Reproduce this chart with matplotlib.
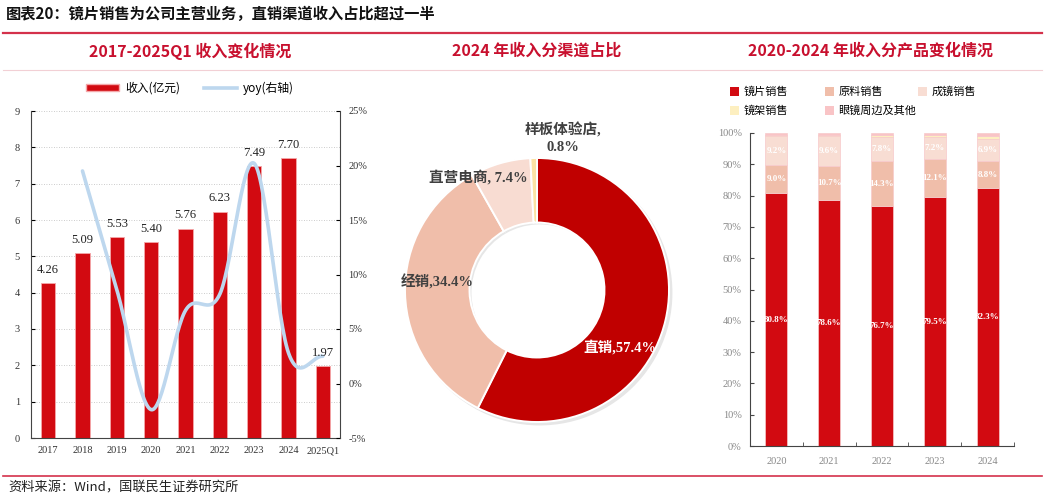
import numpy as np
import matplotlib
matplotlib.use("Agg")
import matplotlib.pyplot as plt
from matplotlib.lines import Line2D
from matplotlib.patches import Patch

# ---------------- data ----------------
rev_years = ["2017", "2018", "2019", "2020", "2021", "2022", "2023", "2024", "2025Q1"]
revenue = [4.26, 5.09, 5.53, 5.40, 5.76, 6.23, 7.49, 7.70, 1.97]
yoy = [None, 19.5, 8.6, -2.4, 6.7, 8.2, 20.2, 2.8, 2.5]
rev_yticks = [0, 1, 2, 3, 4, 5, 6, 7, 8, 9]
yoy_yticks = [-5, 0, 5, 10, 15, 20, 25]

channel_names = ["直销", "经销", "直营电商", "样板体验店"]
channel_share = [57.4, 34.4, 7.4, 0.8]

prod_years = ["2020", "2021", "2022", "2023", "2024"]
prod_names = ["镜片销售", "原料销售", "成镜销售", "镜架销售", "眼镜周边及其他"]
lens = [80.8, 78.6, 76.7, 79.5, 82.3]
raw = [9.0, 10.7, 14.3, 12.1, 8.8]
finished = [9.2, 9.6, 7.8, 7.2, 6.9]
frames = [0.5, 0.5, 0.6, 0.7, 1.0]
others = [0.5, 0.6, 0.6, 0.5, 1.0]
pct_ticks = [0, 10, 20, 30, 40, 50, 60, 70, 80, 90, 100]

# ---------------- style ----------------
CJK = ["Noto Sans CJK SC", "DejaVu Sans"]
SERIF = ["Liberation Serif", "Noto Sans CJK SC"]
RED = "#D20A11"
TITLE_RED = "#C8102E"

W, H = 1045, 500
fig = plt.figure(figsize=(W / 100, H / 100), dpi=100)


def fx(px):
    return px / W


def fy(py):
    return 1 - py / H


# header
fig.text(fx(6), fy(14), "图表20：镜片销售为公司主营业务，直销渠道收入占比超过一半",
         family=CJK, fontsize=11, fontweight="bold", va="center", ha="left", color="#111111")
fig.add_artist(Line2D([fx(3), fx(1042)], [fy(33), fy(33)], color="#D4314B", lw=1.6))
fig.add_artist(Line2D([fx(3), fx(1042)], [fy(70), fy(70)], color="#F2D0D5", lw=0.8))
fig.text(fx(190), fy(51), "2017-2025Q1 收入变化情况", family=CJK, fontsize=11.5,
         fontweight="bold", color=TITLE_RED, ha="center", va="center")
fig.text(fx(537), fy(51), "2024 年收入分渠道占比", family=CJK, fontsize=11.5,
         fontweight="bold", color=TITLE_RED, ha="center", va="center")
fig.text(fx(870), fy(51), "2020-2024 年收入分产品变化情况", family=CJK, fontsize=11.5,
         fontweight="bold", color=TITLE_RED, ha="center", va="center")

# footer
fig.add_artist(Line2D([fx(3), fx(1042)], [fy(476), fy(476)], color="#D4314B", lw=1.2))
fig.text(fx(8), fy(488), "资料来源：Wind，国联民生证券研究所", family=CJK, fontsize=9.5,
         ha="left", va="center", color="#222222")

# ---------------- chart 1 ----------------
ax1 = fig.add_axes([fx(31), fy(438), fx(340) - fx(31), fy(111) - fy(438)])
x = np.arange(len(rev_years))
ax1.bar(x, revenue, width=0.42, color=RED, edgecolor="#F4A7A9", linewidth=0.6, zorder=2)
ax1.set_xlim(-0.5, len(rev_years) - 0.5)
ax1.set_ylim(0, 9)
ax1.set_yticks(rev_yticks)
ax1.set_yticklabels([str(t) for t in rev_yticks], family=SERIF, fontsize=7.5, color="#333333")
ax1.set_xticks(x)
ax1.set_xticklabels(rev_years, family=SERIF, fontsize=7.5, color="#333333")
ax1.tick_params(axis="x", length=0, pad=6)
ax1.tick_params(axis="y", length=3, direction="in", pad=8)
ax1.grid(axis="y", linestyle=(0, (1, 2)), color="#BBBBBB", lw=0.6, zorder=0)
ax1.spines["top"].set_visible(False)
ax1.spines["right"].set_visible(False)
ax1.spines["left"].set_color("#444444")
ax1.spines["bottom"].set_color("#444444")

ax1b = ax1.twinx()
ax1b.set_ylim(-5, 25)
ax1b.set_yticks(yoy_yticks)
ax1b.set_yticklabels([f"{t}%" for t in yoy_yticks], family=SERIF, fontsize=7.5, color="#333333")
ax1b.tick_params(axis="y", length=3, direction="in", pad=6)
ax1b.spines["top"].set_visible(False)
ax1b.spines["left"].set_visible(False)
ax1b.spines["bottom"].set_visible(False)
ax1b.spines["right"].set_color("#444444")

# smooth (Catmull-Rom) rendering of yoy points
px_ = np.array([i for i, v in enumerate(yoy) if v is not None], dtype=float)
py_ = np.array([v for v in yoy if v is not None], dtype=float)
P = np.column_stack([px_, py_])
Pp = np.vstack([P[0] - (P[1] - P[0]), P, P[-1] + (P[-1] - P[-2])])
curve = []
for i in range(1, len(Pp) - 2):
    p0, p1, p2, p3 = Pp[i - 1], Pp[i], Pp[i + 1], Pp[i + 2]
    t = np.linspace(0, 1, 30)[:, None]
    c = 0.5 * ((2 * p1) + (-p0 + p2) * t + (2 * p0 - 5 * p1 + 4 * p2 - p3) * t ** 2
               + (-p0 + 3 * p1 - 3 * p2 + p3) * t ** 3)
    curve.append(c)
curve = np.vstack(curve)
ax1b.plot(curve[:, 0], curve[:, 1], color="#BDD7EE", lw=2.6, zorder=3, solid_capstyle="round")

# value labels drawn on top of the line
for xi, v in zip(x, revenue):
    ax1b.text(xi, v + 0.2, f"{v:.2f}", ha="center", va="bottom", family=SERIF, fontsize=9,
              color="#222222", zorder=5, transform=ax1.transData)

# legend chart 1
leg_handles = [Patch(facecolor=RED, edgecolor="#F4A7A9"),
               Line2D([0], [0], color="#BDD7EE", lw=2.6)]
fig.legend(leg_handles, ["收入(亿元)", "yoy(右轴)"], loc="center", bbox_to_anchor=(fx(190), fy(88)),
           ncol=2, frameon=False, prop={"family": CJK, "size": 8.5}, handlelength=2.8,
           handleheight=0.6, columnspacing=2.0, handletextpad=0.5)

# ---------------- chart 2 (donut) ----------------
axp = fig.add_axes([fx(537 - 150), fy(290 + 150), fx(300), fy(0) - fy(300)])
pie_colors = ["#C00000", "#F0BEAA", "#F8DCD2", "#FBE3A4"]
# faint shadow
axp.pie(channel_share, colors=["#E6E6E6"] * 4, startangle=90, counterclock=False, radius=0.885,
        center=(0.018, -0.018), wedgeprops=dict(width=0.43, edgecolor="none", linewidth=0))
axp.pie(channel_share, colors=pie_colors, startangle=90, counterclock=False,
        radius=0.88, wedgeprops=dict(width=0.43, edgecolor="#FFFFFF", linewidth=1.4))
axp.set_xlim(-1, 1)
axp.set_ylim(-1, 1)
axp.set_aspect("equal")
axp.axis("off")


def pt(pxx, pyy):
    # pixel -> data coords in donut axes
    return ((pxx - 537) / 150.0, -(pyy - 290) / 150.0)


lx, ly = pt(620, 347)
axp.text(lx, ly, f"{channel_names[0]},{channel_share[0]}%", family=SERIF, fontsize=10.5,
         fontweight="bold", color="white", ha="center", va="center")
lx, ly = pt(437, 282)
axp.text(lx, ly, f"{channel_names[1]},{channel_share[1]}%", family=SERIF, fontsize=10.5,
         fontweight="bold", color="#404040", ha="center", va="center")
lx, ly = pt(478, 177)
axp.text(lx, ly, f"{channel_names[2]}, {channel_share[2]}%", family=SERIF, fontsize=10.5,
         fontweight="bold", color="#404040", ha="center", va="center")
lx, ly = pt(563, 138)
axp.text(lx, ly, f"{channel_names[3]},\n{channel_share[3]}%", family=SERIF, fontsize=10.5,
         fontweight="bold", color="#404040", ha="center", va="center", linespacing=1.3)

# ---------------- chart 3 ----------------
ax3 = fig.add_axes([fx(750), fy(446), fx(1014) - fx(750), fy(133) - fy(446)])
xs = np.arange(len(prod_years))
series = [lens, raw, finished, frames, others]
cols = ["#D20A11", "#F0BEAA", "#F8DDD3", "#FDEFC0", "#F9C4C6"]
bottom = np.zeros(len(prod_years))
handles3 = []
for k, (vals, c) in enumerate(zip(series, cols)):
    vals = np.array(vals, dtype=float)
    ax3.bar(xs, vals, bottom=bottom, width=0.42, color=c, edgecolor="#F7C9CB",
            linewidth=0.5, zorder=2)
    handles3.append(Patch(facecolor=c, edgecolor="none"))
    if k < 3:
        for xi, b, v in zip(xs, bottom, vals):
            ax3.text(xi, b + v / 2, f"{v:.1f}%", ha="center", va="center", family=SERIF,
                     fontsize=6.5, fontweight="bold", color="white", zorder=4)
    bottom = bottom + vals
ax3.set_xlim(-0.5, len(prod_years) - 0.5)
ax3.set_ylim(0, 100)
ax3.set_yticks(pct_ticks)
ax3.set_yticklabels([f"{t}%" for t in pct_ticks], family=SERIF, fontsize=7.5, color="#888888")
ax3.set_xticks(xs)
ax3.set_xticklabels(prod_years, family=SERIF, fontsize=7.5, color="#888888")
ax3.set_xticks(np.arange(-0.5, len(prod_years), 1.0), minor=True)
ax3.tick_params(axis="x", which="major", length=0, pad=8)
ax3.tick_params(axis="x", which="minor", length=3, direction="in", color="#444444")
ax3.tick_params(axis="y", length=3, direction="in", pad=6, color="#444444")
ax3.spines["top"].set_visible(False)
ax3.spines["right"].set_visible(False)
ax3.spines["left"].set_color("#444444")
ax3.spines["bottom"].set_color("#444444")

# legend chart 3: items placed individually
leg_pos = [(730, 92), (825, 92), (918, 92), (730, 111), (825, 111)]
for h, lab, (lx_, ly_) in zip(handles3, prod_names, leg_pos):
    fig.legend([h], [lab], loc="center left", bbox_to_anchor=(fx(lx_), fy(ly_)), frameon=False,
               prop={"family": CJK, "size": 8}, handlelength=0.8, handleheight=0.8,
               handletextpad=0.4, borderpad=0, borderaxespad=0)

fig.savefig("out.png", dpi=100)
